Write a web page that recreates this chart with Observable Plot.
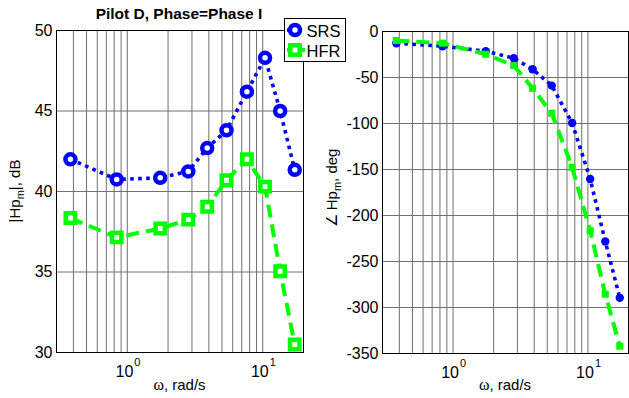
<!DOCTYPE html>
<html>
<head>
<meta charset="utf-8">
<script src="https://cdn.jsdelivr.net/npm/d3@7"></script>
<script src="https://cdn.jsdelivr.net/npm/@observablehq/plot@0.6"></script>
<style>
  body { margin: 0; background: #fff; }
  #wrap { position: relative; width: 629px; height: 398px; background: #fff; font-family: "Liberation Sans", Arial, sans-serif; overflow: hidden; }
  #left, #right, #legend { position: absolute; top: 0; }
  #left { left: 0; }
  #right { left: 320px; }
</style>
</head>
<body>
<div id="wrap">
  <div id="left"></div>
  <div id="right"></div>
  <svg id="legend"></svg>
</div>
<script>
// ---- data ----
const freq = [0.38, 0.835, 1.75, 2.82, 3.89, 5.4, 7.64, 10.4, 13.45, 17.23];
const magSRS = [42.0, 40.75, 40.85, 41.25, 42.7, 43.8, 46.2, 48.3, 45.0, 41.35];
const magHFR = [38.35, 37.15, 37.7, 38.25, 39.05, 40.7, 42.0, 40.3, 35.05, 30.5];
const phaseSRS = [-12.7, -16, -21.4, -29, -41, -58.8, -99.4, -160.3, -228.2, -289.5];
const phaseHFR = [-9.8, -12.7, -24.7, -37, -61.7, -88.9, -147.6, -216.5, -285.5, -342];
const seriesNames = ["SRS", "HFR"];
const magTicks = [30, 35, 40, 45, 50];
const phaseTicks = [-350, -300, -250, -200, -150, -100, -50, 0];
const xGrid = [0.4, 0.5, 0.6, 0.7, 0.8, 0.9, 1, 2, 3, 4, 5, 6, 7, 8, 9, 10, 20];
const xMajor = [1, 10];
const xMajorBase = ["10", "10"];
const xMajorExp = ["0", "1"];
const titleText = "Pilot D, Phase=Phase I";

const BLUE = "#0000ff", GREEN = "#00ff00";
const FONT = "'Liberation Sans', Arial, Helvetica, sans-serif";

const rows = (ys) => freq.map((f, i) => ({f, v: ys[i]}));

function panel({yDomain, yTicks, srs, hfr, openMarkers, width, margins}) {
  const srsRows = rows(srs), hfrRows = rows(hfr);
  const marks = [
    Plot.ruleX(xGrid, {stroke: "#707070", strokeWidth: 1}),
    Plot.ruleY(yTicks, {stroke: "#707070", strokeWidth: 1}),
    Plot.line(srsRows, {x: "f", y: "v", stroke: BLUE, strokeWidth: 3.6, strokeDasharray: "3.6,4.4", strokeLinecap: "butt"}),
    openMarkers
      ? Plot.dot(srsRows, {x: "f", y: "v", symbol: "circle", r: 5, stroke: BLUE, strokeWidth: 4.5, fill: "white"})
      : Plot.dot(srsRows, {x: "f", y: "v", symbol: "circle", r: 4.2, fill: BLUE}),
    Plot.line(hfrRows, {x: "f", y: "v", stroke: GREEN, strokeWidth: 4, strokeDasharray: "13,7", strokeLinecap: "butt"}),
    openMarkers
      ? Plot.dot(hfrRows, {x: "f", y: "v", symbol: "square", r: 5.3, stroke: GREEN, strokeWidth: 4.5, fill: "white"})
      : Plot.dot(hfrRows, {x: "f", y: "v", symbol: "square", r: 4, fill: GREEN}),
    Plot.frame({stroke: "black", strokeWidth: 1}),
    Plot.axisY({ticks: yTicks, tickSize: 0, tickPadding: 4, label: null, tickFormat: d => String(d), fontSize: 16}),
    Plot.text(xMajor, {x: d => d, text: (d, i) => xMajorBase[i], frameAnchor: "bottom", textAnchor: "end", lineAnchor: "bottom", dx: 6, dy: 24, fontSize: 16}),
    Plot.text(xMajor, {x: d => d, text: (d, i) => xMajorExp[i], frameAnchor: "bottom", textAnchor: "start", lineAnchor: "bottom", dx: 7, dy: 13, fontSize: 11})
  ];
  return Plot.plot({
    width, height: 398,
    ...margins,
    style: {fontFamily: FONT, fontSize: "16px", color: "black", background: "transparent", overflow: "visible"},
    x: {type: "log", domain: [0.3, 20], axis: null},
    y: {domain: yDomain, axis: null},
    marks
  });
}

const left = panel({
  yDomain: [30, 50], yTicks: magTicks, srs: magSRS, hfr: magHFR, openMarkers: true,
  width: 320, margins: {marginLeft: 56, marginRight: 17, marginTop: 30, marginBottom: 46}
});
const right = panel({
  yDomain: [-350, 0], yTicks: phaseTicks, srs: phaseSRS, hfr: phaseHFR, openMarkers: false,
  width: 309, margins: {marginLeft: 62, marginRight: 1, marginTop: 31, marginBottom: 45}
});
document.getElementById("left").appendChild(left);
document.getElementById("right").appendChild(right);

// ---- labels ----
function xLabel(svg, cx) {
  const t = d3.select(svg).append("text")
    .attr("x", cx).attr("y", 390).attr("text-anchor", "middle")
    .attr("font-size", 15).attr("font-family", FONT).attr("fill", "black");
  t.append("tspan").attr("font-family", "'Liberation Serif', 'Times New Roman', serif").attr("font-size", 16).text("ω");
  t.append("tspan").text(", rad/s");
}
function yLabel(svg, x, cy, pre, post) {
  const t = d3.select(svg).append("text")
    .attr("transform", `translate(${x},${cy}) rotate(-90)`)
    .attr("text-anchor", "middle").attr("font-size", 15)
    .attr("font-family", FONT).attr("fill", "black");
  t.append("tspan").text(pre);
  t.append("tspan").attr("font-size", 11).attr("dy", 4).text("m");
  t.append("tspan").attr("dy", -4).text(post);
}
xLabel(left, 179.5);
xLabel(right, 505 - 320);
yLabel(left, 20, 191, "|Hp", "|, dB");
yLabel(right, 17, 188, "∠ Hp", ", deg");

d3.select(left).append("text")
  .attr("x", 179).attr("y", 19).attr("text-anchor", "middle")
  .attr("font-size", 15.5).attr("font-weight", "bold")
  .attr("font-family", FONT).attr("fill", "black").text(titleText);

// ---- legend ----
const lg = d3.select("#legend")
  .attr("width", 62).attr("height", 44)
  .style("left", "284px").style("top", "18px");
lg.append("rect").attr("x", 0.5).attr("y", 0.5).attr("width", 61).attr("height", 43)
  .attr("fill", "white").attr("stroke", "black").attr("stroke-width", 1);
const entryY = [12, 32];
// SRS
lg.append("line").attr("x1", 3).attr("x2", 19).attr("y1", entryY[0]).attr("y2", entryY[0])
  .attr("stroke", BLUE).attr("stroke-width", 3.6).attr("stroke-dasharray", "3.6,4.4");
lg.append("circle").attr("cx", 11).attr("cy", entryY[0]).attr("r", 5)
  .attr("fill", "white").attr("stroke", BLUE).attr("stroke-width", 4.5);
// HFR
lg.append("line").attr("x1", 3).attr("x2", 21).attr("y1", entryY[1]).attr("y2", entryY[1])
  .attr("stroke", GREEN).attr("stroke-width", 4);
lg.append("rect").attr("x", 6.3).attr("y", entryY[1] - 4.7).attr("width", 9.4).attr("height", 9.4)
  .attr("fill", "white").attr("stroke", GREEN).attr("stroke-width", 4.5);
seriesNames.forEach((name, i) => {
  lg.append("text").attr("x", 22.5).attr("y", entryY[i] + 6.5)
    .attr("font-size", 16.5).attr("font-family", FONT).attr("fill", "black").text(name);
});
</script>
</body>
</html>
